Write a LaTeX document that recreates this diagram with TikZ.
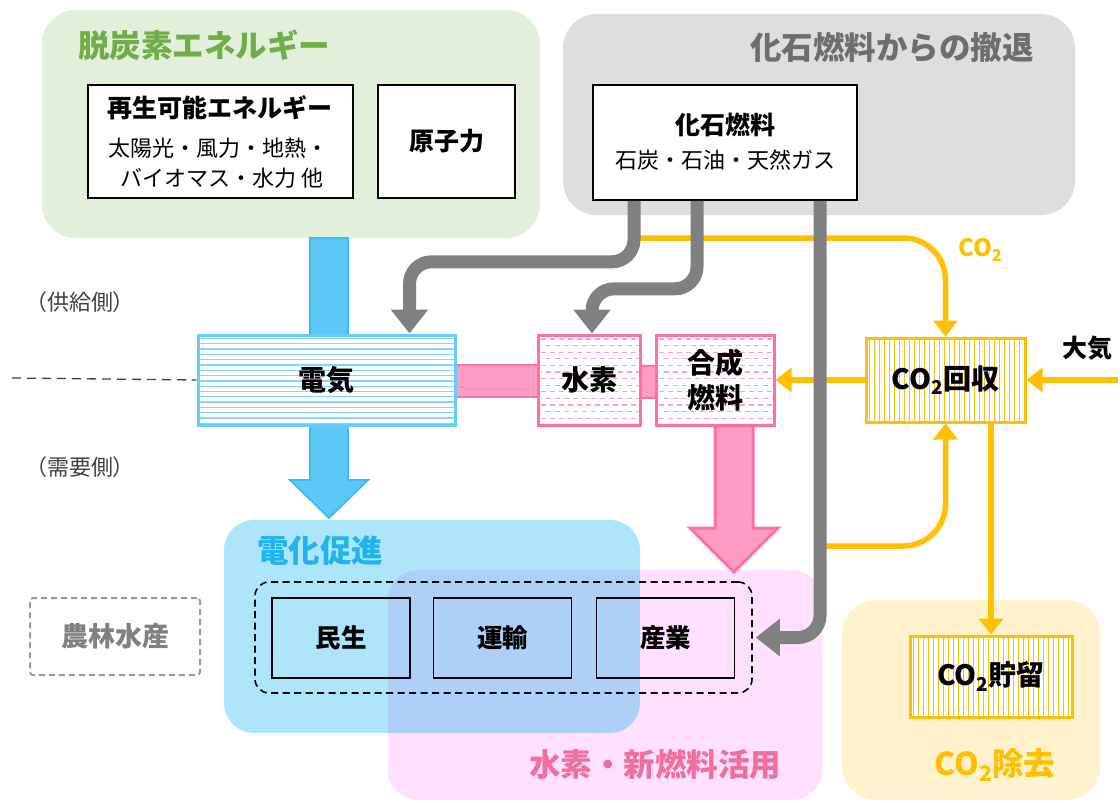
\documentclass[tikz,border=0pt]{standalone}
\usepackage{fontspec}
\usepackage{graphicx}
\setmainfont{Noto Sans CJK JP}
\usetikzlibrary{arrows.meta,calc}
\newcommand\fsz[2]{\fontsize{#1}{#2}\selectfont}
\newcommand\subtwo{\raisebox{-0.2em}{\scalebox{0.68}{2}}}
\definecolor{greenbg}{HTML}{E2EFDA}
\definecolor{greentxt}{HTML}{70AD47}
\definecolor{graybg}{HTML}{DEDEDE}
\definecolor{graytxt}{HTML}{6E6E6E}
\definecolor{arrgray}{HTML}{808080}
\definecolor{elecblue}{HTML}{66CCFF}
\definecolor{hatchblue}{HTML}{80D6FF}
\definecolor{bluefill}{HTML}{5CC8F8}
\definecolor{bluedark}{HTML}{3CBDF2}
\definecolor{bluegrp}{HTML}{00AEEF}
\definecolor{bluetxt}{HTML}{1FB4EE}
\definecolor{pinkline}{HTML}{FF6F9F}
\definecolor{pinkfill}{HTML}{FF9CC6}
\definecolor{hatchpink}{HTML}{FFA0C4}
\definecolor{pinkgrp}{HTML}{FFE1FF}
\definecolor{pinktxt}{HTML}{F26E9D}
\definecolor{yel}{HTML}{FFC000}
\definecolor{yelgrp}{HTML}{FFF2CC}
\definecolor{sidetxt}{HTML}{404040}
\definecolor{nogray}{HTML}{808080}
\definecolor{nodash}{HTML}{999999}
\begin{document}
\begin{tikzpicture}[x=1pt,y=-1pt,
  grp/.style={inner sep=0, rounded corners=34pt},
  wbox/.style={draw=black, line width=1.6pt, fill=white, inner sep=0},
  secbox/.style={draw=black, line width=1.6pt, inner sep=0, minimum width=138, minimum height=80, font=\fsz{25.5}{30}\bfseries},
  boxtitle/.style={font=\fsz{25}{30}\bfseries, inner sep=0},
  boxsub/.style={font=\fsz{22}{28}, inner sep=0},
  grptitle/.style={font=\fsz{31.5}{36}\bfseries, inner sep=0},
  bigtxt/.style={font=\fsz{28}{35}\bfseries, inner sep=0, align=center},
  garr/.style={draw=arrgray, line width=13pt, rounded corners=22pt, -{Triangle[width=36pt,length=24pt]}},
  yarr/.style={draw=yel, line width=5.5pt, -{Triangle[width=24pt,length=16pt]}},
  elecbox/.style={draw=elecblue, line width=3pt, fill=white, inner sep=0,
    path picture={\foreach \k in {0,...,20}{
      \draw[hatchblue, line width=1.3pt] ($(path picture bounding box.north west)+(0,{3.5+\k*5.3})$) -- ++(400,0);}}},
  h2box/.style={draw=pinkline, line width=3pt, fill=white, inner sep=0,
    path picture={\foreach \k [evaluate=\k as \ph using {mod(\k,2)*4.5}] in {0,...,15}{
      \draw[hatchpink, line width=1.1pt, dash pattern=on 5pt off 4pt, dash phase=\ph pt] ($(path picture bounding box.north west)+(3,{4+\k*6.6})$) -- ++(200,0);}}},
  co2box/.style={draw=yel, line width=3pt, fill=white, inner sep=0,
    path picture={\foreach \k in {0,...,35}{
      \draw[yel, line width=1.2pt] ($(path picture bounding box.north west)+({3.5+\k*5},0)$) -- ++(0,200);}}},
]
\useasboundingbox (0,0) rectangle (1120,803);

% ---- group backgrounds
\node[grp, fill=greenbg, minimum width=498, minimum height=228] (ggrp) at (291,124) {};
\node[grp, fill=graybg, minimum width=512, minimum height=201] (fgrp) at (819,114.5) {};
\node[grp, fill=yelgrp, minimum width=258, minimum height=200] (ygrp) at (971,700) {};
\node[grp, rounded corners=30pt, fill=pinkgrp, minimum width=434, minimum height=230] (pgrp) at (605,685) {};
\node[grp, rounded corners=30pt, fill=bluegrp, fill opacity=0.32, minimum width=416, minimum height=213] (bgrp) at (432,626.5) {};

% ---- group titles
\node[grptitle, anchor=west, text=greentxt] (gtitle) at (78,45) {脱炭素エネルギー};
\node[grptitle, anchor=east, text=graytxt] (ftitle) at (1034,48) {化石燃料からの撤退};
\node[grptitle, anchor=west, text=bluetxt] (btitle) at (257,551) {電化促進};
\node[grptitle, text=pinktxt] (ptitle) at (655,765) {水素・新燃料活用};
\node[grptitle, text=yel] (ytitle) at (995,765) {CO\subtwo 除去};

% ---- side labels
\node[font=\fsz{22}{26}, text=sidetxt, inner sep=0] (supply) at (80,302) {（供給側）};
\node[font=\fsz{22}{26}, text=sidetxt, inner sep=0] (demand) at (80,467) {（需要側）};
\coordinate (dashstart) at (12,378);

% ---- blue block arrow
\draw[fill=bluefill, draw=bluedark, line width=1.8pt, line join=miter]
  (310,238) -- (348,238) -- (348,480) -- (368,480) -- (329,518) -- (290,480) -- (310,480) -- cycle;
% ---- pink block arrow & bars
\draw[fill=pinkfill, draw=pinkline, line width=3pt, line join=miter]
  (715,425) -- (753,425) -- (753,528) -- (778,528) -- (734,572) -- (690,528) -- (715,528) -- cycle;
\draw[fill=pinkfill, draw=pinkline, line width=2.5pt] (455,365) rectangle (538,397);
\draw[fill=pinkfill, draw=pinkline, line width=2.5pt] (640,366) rectangle (656,398);

% ---- boxes
\node[wbox, minimum width=265, minimum height=113] (renew) at (220.5,141.5) {};
\node[boxtitle] (renewt) at (220,108) {再生可能エネルギー};
\node[boxsub] (renews1) at (218,148) {太陽光・風力・地熱・};
\node[boxsub] (renews2) at (222,178) {バイオマス・水力 他};
\node[wbox, minimum width=137, minimum height=113, font=\fsz{25}{30}\bfseries] (nuc) at (446.5,141.5) {原子力};
\node[wbox, minimum width=264, minimum height=115] (fossil) at (725,142.5) {};
\node[boxtitle] (fossilt) at (725,125) {化石燃料};
\node[boxsub] (fossils) at (725,160) {石炭・石油・天然ガス};

\node[elecbox, minimum width=257, minimum height=90] (elec) at (326.5,380) {};
\node[bigtxt] (elect) at (elec) {電気};
\node[h2box, minimum width=102, minimum height=90] (h2) at (589,380) {};
\node[bigtxt] (h2t) at (h2) {水素};
\node[h2box, minimum width=118, minimum height=90] (syn) at (715,380) {};
\node[bigtxt] (synt) at (syn) {合成\\燃料};
\node[co2box, minimum width=159, minimum height=84] (cap) at (945.5,380) {};
\node[bigtxt] (capt) at (cap) {CO\subtwo 回収};
\node[co2box, minimum width=162, minimum height=81] (store) at (991,676.5) {};
\node[bigtxt] (storet) at (store) {CO\subtwo 貯留};
\node[font=\fsz{25}{30}\bfseries, inner sep=0] (air) at (1087,348) {大気};
\coordinate (airsrc) at (1118,380);

\node[draw=nodash, line width=2pt, dash pattern=on 6pt off 4pt, rounded corners=3pt, minimum width=170, minimum height=77, inner sep=0, text=nogray, font=\fsz{27}{30}\bfseries] (agri) at (115,636.5) {農林水産};

\node[draw=black, line width=1.6pt, dash pattern=on 7pt off 4.5pt, rounded corners=14pt, minimum width=497, minimum height=111, inner sep=0] (sectors) at (503.5,637.5) {};
\node[secbox] (minsei) at (341,638) {民生};
\node[secbox] (unyu) at (502.5,638) {運輸};
\node[secbox] (sangyo) at (665.5,638) {産業};

% ---- yellow connectors
\coordinate (co2top) at (634,238);
\coordinate (co2bot) at (820,546);
\draw[yarr, rounded corners=42pt] (co2top) -| (cap.north);
\draw[yarr, rounded corners=42pt] (co2bot) -| (cap.south);
\node[font=\fsz{24}{28}\bfseries, text=yel, inner sep=0] (co2lbl) at (980,250) {CO\subtwo};
\draw[yarr] (cap.south -| store.north) -- (store.north);
\draw[yarr] (cap.west) -- (syn.east);
\draw[yarr] (airsrc) -- (cap.east);

% ---- gray connectors
\draw[garr] ([xshift=-91pt]fossil.south) -- ++(0,61) -| ([xshift=83pt]elec.north);
\draw[garr] ([xshift=-28pt]fossil.south) -- ++(0,88) -| ([xshift=3pt]h2.north);
\draw[garr] ([xshift=95pt]fossil.south) |- ([xshift=3pt]sectors.east);

% ---- dashed divider
\draw[sidetxt, line width=1.3pt, dash pattern=on 9pt off 6pt] (dashstart) -- (elec.west);
\end{tikzpicture}
\end{document}
